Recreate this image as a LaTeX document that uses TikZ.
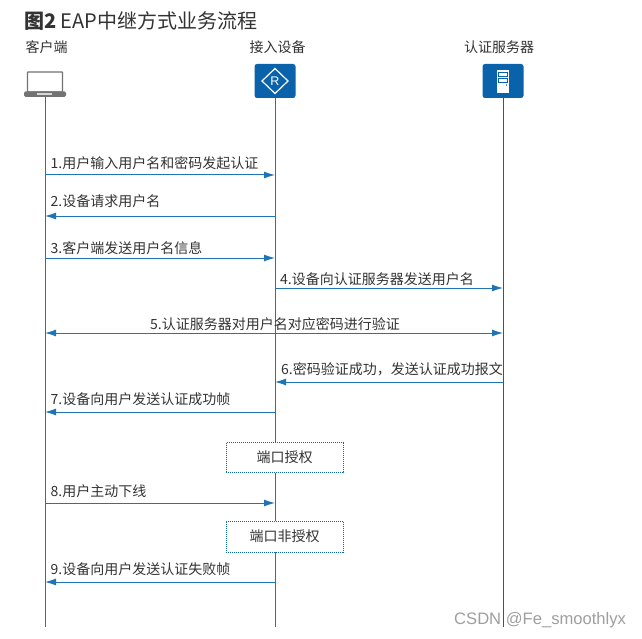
\documentclass[tikz,border=0pt]{standalone}
\usepackage{fontspec}
\setmainfont{Noto Sans CJK SC}
\newfontfamily\wmfont{Liberation Sans}
\usetikzlibrary{arrows.meta}
\definecolor{hwblue}{HTML}{0A62AB}
\definecolor{linkblue}{HTML}{1F73B7}
\definecolor{txt}{HTML}{333333}
\tikzset{
  x=1pt,y=-1pt,
  hdr/.style={font=\fontsize{14}{15}\selectfont,text=txt,inner sep=0pt},
  lbl/.style={font=\fontsize{14}{15}\selectfont,text=txt,inner sep=0pt,anchor=west},
  life/.style={draw=linkblue,line width=1pt},
  msg/.style={draw=linkblue,line width=1pt,-{Latex[length=11pt,width=7pt]}},
  msgboth/.style={draw=linkblue,line width=1pt,{Latex[length=11pt,width=7pt]}-{Latex[length=11pt,width=7pt]}},
  state/.style={draw=hwblue,densely dotted,line width=1pt,fill=white,minimum width=117pt,inner sep=0pt,text=txt,font=\fontsize{14}{15}\selectfont},
  icon/.style={fill=hwblue,draw=none,rounded corners=2.5pt,minimum width=41pt,minimum height=34pt,inner sep=0pt},
}
\begin{document}
\begin{tikzpicture}
\useasboundingbox[fill=white] (0,0) rectangle (642,639);
% title
\node[anchor=west,inner sep=0pt,text=txt,font=\fontsize{20}{22}\selectfont] (title) at (24,21) {\textbf{图2} EAP中继方式业务流程};
% headers
\node[hdr] (h1) at (46.5,47.5) {客户端};
\node[hdr] (h2) at (277.5,47.5) {接入设备};
\node[hdr] (h3) at (499,47.5) {认证服务器};
% heads
\coordinate (cl) at (45,97);
\node[icon] (rt) at (275,81) {};
\node[icon] (sv) at (503,81) {};
% laptop
\draw[draw=gray!90!black,line width=1.2pt,fill=white,rounded corners=0.5pt] (27.5,72) rectangle (62.5,92);
\fill[gray!90!black,rounded corners=1.5pt] (24,91.5) rectangle (66,97);
\fill[gray!30] (37,93) rectangle (52,95.5);
% router glyph
\draw[white,line width=1.2pt] (275,68.5) -- (288,81) -- (275,93.5) -- (262,81) -- cycle;
\node[text=white,inner sep=0pt,font=\wmfont\fontsize{12.5}{13}\selectfont] (rr) at (275,81) {R};
% server glyph
\fill[white] (497,70) rectangle (509,93);
\draw[hwblue,line width=0.8pt,fill=white] (498.5,72.5) rectangle (507.5,76.5);
\draw[hwblue,line width=0.8pt,fill=white] (498.5,78) rectangle (507.5,82);
\fill[hwblue!70] (505.5,84) rectangle (507,86);
% lifeline ends
\coordinate (e1) at (45,627);
\coordinate (e2) at (275,627);
\coordinate (e3) at (503,627);
\draw[life] (cl) -- (e1);
\draw[life] (rt.south) -- (e2);
\draw[life,draw=hwblue] (sv.south) -- (e3);
% message anchors
\foreach \n/\y in {1/175,2/216,3/258,4/288,5/333,6/382,7/412,8/503,9/582}{
  \coordinate (a\n) at (45,\y);
  \coordinate (b\n) at (275,\y);
  \coordinate (c\n) at (503,\y);
}
\draw[msg] (a1) -- (b1);
\draw[msg] (b2) -- (a2);
\draw[msg] (a3) -- (b3);
\draw[msg] (b4) -- (c4);
\draw[msgboth] (a5) -- (c5);
\draw[msg] (c6) -- (b6);
\draw[msg] (b7) -- (a7);
\draw[msg] (a8) -- (b8);
\draw[msg] (b9) -- (a9);
% labels
\node[lbl] (t1) at (50.5,163.5) {1.用户输入用户名和密码发起认证};
\node[lbl] (t2) at (50.5,201.5) {2.设备请求用户名};
\node[lbl] (t3) at (50.5,248) {3.客户端发送用户名信息};
\node[lbl] (t4) at (280,279.5) {4.设备向认证服务器发送用户名};
\node[lbl] (t5) at (150,324.5) {5.认证服务器对用户名对应密码进行验证};
\node[lbl] (t6) at (281,369.5) {6.密码验证成功，发送认证成功报文};
\node[lbl] (t7) at (50.5,399.5) {7.设备向用户发送认证成功帧};
\node[lbl] (t8) at (50.5,491) {8.用户主动下线};
\node[lbl] (t9) at (50.5,569.5) {9.设备向用户发送认证失败帧};
% states
\node[state,minimum height=30pt] (s1) at (284.5,457.5) {端口授权};
\node[state,minimum height=31pt] (s2) at (284.5,536.5) {端口非授权};
% watermark
\node[anchor=west,inner sep=0pt,text=gray!75,font=\wmfont\fontsize{16.6}{18}\selectfont] (wm) at (454,620) {CSDN @Fe\_smoothlyx};
\end{tikzpicture}
\end{document}
